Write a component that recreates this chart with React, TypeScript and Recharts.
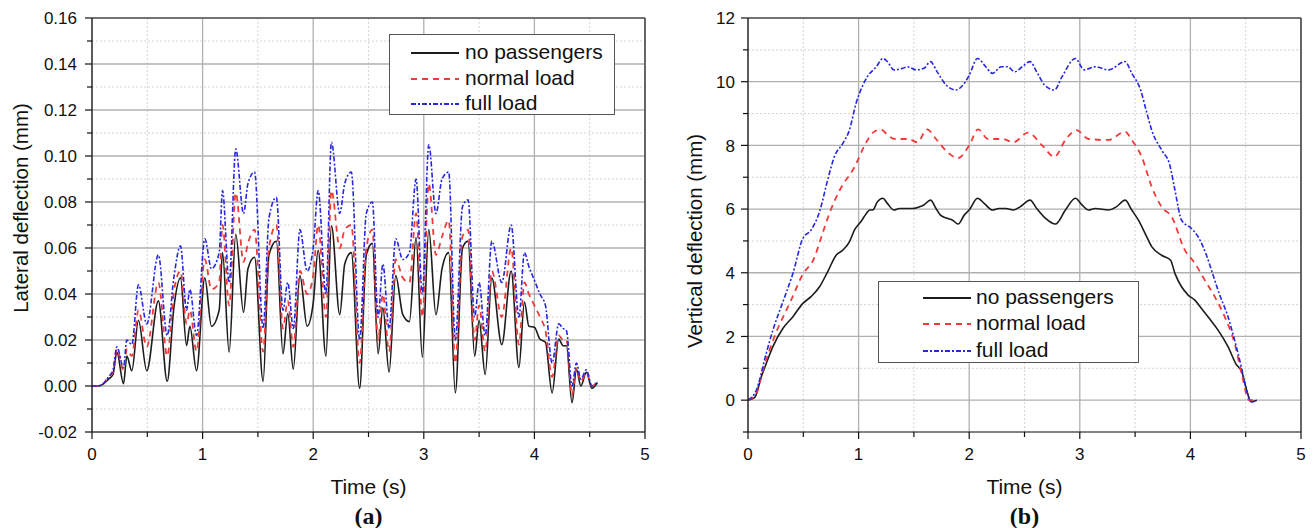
import React from 'react';
import { LineChart, Line, XAxis, YAxis, CartesianGrid, ReferenceLine } from 'recharts';

// ---- (a) lateral deflection: the three curves read at the same instants ----
const latTime = [
  0, 0.05, 0.09, 0.15, 0.19, 0.225, 0.285, 0.315, 0.36, 0.42, 0.495, 0.6, 0.68, 0.74, 0.8, 0.855,
  0.885, 0.945, 1.02, 1.08, 1.15, 1.18, 1.24, 1.3, 1.37, 1.41, 1.47, 1.547, 1.6, 1.667, 1.727, 1.77,
  1.82, 1.88, 1.945, 2.0, 2.045, 2.115, 2.165, 2.24, 2.285, 2.345, 2.42, 2.48, 2.535, 2.587, 2.63,
  2.686, 2.746, 2.81, 2.87, 2.93, 2.987, 3.045, 3.11, 3.165, 3.225, 3.285, 3.35, 3.4, 3.46, 3.5,
  3.555, 3.615, 3.705, 3.79, 3.86, 3.91, 3.95, 4.0, 4.05, 4.1, 4.16, 4.22, 4.26, 4.29, 4.34, 4.38,
  4.42, 4.47, 4.52, 4.57,
];
const latNoPassengers = [
  0, 0, 0.0005, 0.003, 0.005, 0.0147, 0.001, 0.013, 0.0066, 0.0286, 0.0066, 0.037, 0.002, 0.034, 0.047, 0.0176,
  0.026, 0.0066, 0.047, 0.026, 0.033, 0.058, 0.0147, 0.066, 0.032, 0.051, 0.056, 0.002, 0.057, 0.063, 0.014, 0.0315,
  0.0073, 0.048, 0.026, 0.036, 0.059, 0.013, 0.0697, 0.031, 0.053, 0.058, -0.001, 0.057, 0.062, 0.014, 0.034,
  0.006, 0.048, 0.031, 0.028, 0.0645, 0.0125, 0.068, 0.031, 0.051, 0.058, -0.003, 0.06, 0.063, 0.013, 0.0286,
  0.005, 0.047, 0.018, 0.05, 0.008, 0.0365, 0.026, 0.0255, 0.0204, 0.019, -0.003, 0.0204, 0.0175, 0.0175, -0.0073, 0.0073,
  0, 0.006, -0.001, 0.0015,
];
const latNormal = [
  0, 0, 0.0005, 0.004, 0.006, 0.016, 0.007, 0.016, 0.013, 0.033, 0.017, 0.045, 0.013, 0.041, 0.05, 0.027,
  0.033, 0.015, 0.055, 0.042, 0.045, 0.07, 0.035, 0.084, 0.054, 0.062, 0.068, 0.015, 0.06, 0.07, 0.025, 0.037,
  0.017, 0.05, 0.04, 0.048, 0.07, 0.03, 0.085, 0.06, 0.068, 0.07, 0.01, 0.06, 0.068, 0.02, 0.04,
  0.015, 0.055, 0.047, 0.045, 0.075, 0.03, 0.088, 0.057, 0.065, 0.072, 0.01, 0.065, 0.068, 0.02, 0.035,
  0.015, 0.05, 0.03, 0.06, 0.018, 0.045, 0.04, 0.035, 0.03, 0.024, 0.004, 0.022, 0.02, 0.02, -0.004, 0.008,
  0.002, 0.006, 0, 0.002,
];
const latFull = [
  0, 0, 0.0005, 0.004, 0.007, 0.017, 0.008, 0.02, 0.018, 0.044, 0.027, 0.057, 0.022, 0.047, 0.061, 0.033,
  0.042, 0.022, 0.064, 0.051, 0.058, 0.085, 0.045, 0.103, 0.075, 0.088, 0.093, 0.025, 0.073, 0.082, 0.033, 0.045,
  0.025, 0.068, 0.05, 0.06, 0.085, 0.04, 0.106, 0.075, 0.088, 0.093, 0.02, 0.075, 0.08, 0.03, 0.053,
  0.025, 0.064, 0.055, 0.058, 0.09, 0.04, 0.105, 0.075, 0.09, 0.093, 0.02, 0.078, 0.081, 0.03, 0.045,
  0.022, 0.063, 0.045, 0.07, 0.03, 0.058, 0.052, 0.046, 0.04, 0.035, 0.01, 0.027, 0.025, 0.024, 0, 0.01,
  0.003, 0.007, 0, 0.002,
];

// ---- (b) vertical deflection ----
const vertTimeNoPassengers = [
  0, 0.06, 0.12, 0.165, 0.225, 0.315, 0.406, 0.496, 0.57, 0.647, 0.72, 0.797, 0.857, 0.917, 0.962, 1.02,
  1.07, 1.1, 1.128, 1.17, 1.22, 1.26, 1.32, 1.37, 1.43, 1.49, 1.55, 1.59, 1.65, 1.7, 1.74, 1.8, 1.85,
  1.9, 1.955, 2.0, 2.075, 2.135, 2.21, 2.27, 2.33, 2.4, 2.46, 2.55, 2.61, 2.69, 2.78, 2.87, 2.96, 3.02,
  3.08, 3.14, 3.26, 3.33, 3.41, 3.47, 3.53, 3.59, 3.65, 3.74, 3.82, 3.86, 3.92, 3.98, 4.04, 4.1, 4.17,
  4.25, 4.34, 4.41, 4.47, 4.5, 4.55, 4.6,
];
const vertNoPassengers = [
  0, 0.08, 0.73, 1.15, 1.68, 2.25, 2.62, 3.04, 3.25, 3.56, 4.03, 4.55, 4.71, 4.97, 5.34, 5.6,
  5.86, 5.97, 5.97, 6.23, 6.34, 6.18, 5.97, 6.02, 6.02, 6.02, 6.07, 6.13, 6.28, 6.02, 5.81, 5.71, 5.65,
  5.53, 5.81, 5.97, 6.34, 6.18, 5.97, 6.02, 6.02, 5.97, 6.07, 6.28, 6.02, 5.71, 5.53, 5.97, 6.34, 6.13,
  5.97, 6.02, 5.97, 6.07, 6.28, 5.97, 5.65, 5.24, 4.82, 4.55, 4.4, 3.98, 3.56, 3.3, 3.14, 2.88, 2.57,
  2.2, 1.68, 1.15, 0.84, 0.42, -0.05, 0,
];
const vertTimeNormal = [
  0, 0.075, 0.135, 0.24, 0.39, 0.5, 0.59, 0.68, 0.74, 0.83, 0.96, 1.07, 1.13, 1.2, 1.27, 1.33,
  1.45, 1.53, 1.62, 1.7, 1.8, 1.9, 2.0, 2.08, 2.17, 2.3, 2.4, 2.53, 2.66, 2.77, 2.87, 2.97,
  3.08, 3.26, 3.41, 3.47, 3.56, 3.65, 3.74, 3.83, 3.95, 4.04, 4.13, 4.22, 4.31, 4.4, 4.47, 4.53, 4.6,
];
const vertNormal = [
  0, 0.2, 0.94, 2.0, 3.14, 3.98, 4.4, 5.3, 5.9, 6.6, 7.3, 8.1, 8.4, 8.5, 8.3, 8.2,
  8.2, 8.1, 8.5, 8.2, 7.8, 7.6, 8.0, 8.5, 8.2, 8.2, 8.1, 8.4, 8.0, 7.64, 8.17, 8.48,
  8.2, 8.17, 8.43, 8.17, 7.64, 6.7, 6.07, 5.76, 4.71, 4.3, 3.77, 3.25, 2.62, 1.78, 0.73, 0, 0,
];
const vertTimeFull = [
  0, 0.075, 0.165, 0.225, 0.316, 0.406, 0.496, 0.57, 0.647, 0.72, 0.78, 0.857, 0.917, 0.977, 1.04, 1.08,
  1.16, 1.22, 1.26, 1.32, 1.4, 1.44, 1.52, 1.59, 1.65, 1.71, 1.79, 1.88, 1.93, 2.0, 2.075, 2.15,
  2.21, 2.29, 2.35, 2.41, 2.48, 2.55, 2.61, 2.68, 2.77, 2.84, 2.96, 3.04, 3.14, 3.26, 3.41, 3.47,
  3.55, 3.6, 3.65, 3.75, 3.81, 3.86, 3.92, 4.01, 4.07, 4.14, 4.2, 4.26, 4.34, 4.4, 4.46, 4.5, 4.55, 4.6,
];
const vertFull = [
  0, 0.31, 1.47, 2.2, 3.09, 3.98, 5.08, 5.34, 5.92, 6.91, 7.64, 8.06, 8.48, 9.32, 9.9, 10.16,
  10.47, 10.73, 10.63, 10.37, 10.42, 10.47, 10.37, 10.42, 10.63, 10.31, 9.9, 9.74, 9.84, 10.2, 10.73, 10.47,
  10.26, 10.47, 10.47, 10.31, 10.47, 10.63, 10.31, 9.9, 9.74, 10.16, 10.73, 10.37, 10.47, 10.37, 10.63, 10.26,
  9.74, 9.1, 8.48, 7.8, 7.43, 6.6, 5.65, 5.39, 5.13, 4.6, 3.98, 3.35, 2.62, 1.88, 1.05, 0.42, -0.05, 0,
];

// ---- ticks ----
const timeMajor = [0, 1, 2, 3, 4, 5];
const timeMinor = [0.5, 1.5, 2.5, 3.5, 4.5];
const latMajor = [-0.02, 0, 0.02, 0.04, 0.06, 0.08, 0.1, 0.12, 0.14, 0.16];
const latMinor = [-0.01, 0.01, 0.03, 0.05, 0.07, 0.09, 0.11, 0.13, 0.15];
const vertMajor = [0, 2, 4, 6, 8, 10, 12];
const vertMinor = [-1, 1, 3, 5, 7, 9, 11];

const SERIES = [
  { name: 'no passengers', color: '#1c1c1c', dash: undefined as string | undefined, width: 1.6 },
  { name: 'normal load', color: '#f03a3a', dash: '6 5', width: 1.8 },
  { name: 'full load', color: '#2727dd', dash: '5 2 2 2', width: 1.6 },
];

const FONT = '"Liberation Sans", Arial, Helvetica, sans-serif';

const toPoints = (ts: number[], vs: number[]) => ts.map((t, i) => ({ t, v: vs[i] }));

interface PanelProps {
  left: number;
  width: number;
  yAxisWidth: number;
  yDomain: [number, number];
  yMajor: number[];
  yMinor: number[];
  fmt: (v: number) => string;
  labelGap: number;
  yLabel: string;
  yLabelX: number;
  yLabelY: number;
  caption: string;
  curves: { t: number; v: number }[][];
  legend: { left: number; top: number; width: number; height: number; sampleX: number; textX: number; rows: number[] };
}

const Panel: React.FC<PanelProps> = (p) => {
  const YTick = (props: any) => {
    const { x, y, payload } = props;
    const major = p.yMajor.includes(payload.value);
    return (
      <g>
        <line x1={x} x2={x - (major ? 7 : 5)} y1={y} y2={y} stroke="#111" strokeWidth={1.2} />
        {major && (
          <text x={x - p.labelGap} y={y} dy="0.36em" textAnchor="end" fontSize={17} fontFamily={FONT} fill="#111">
            {p.fmt(payload.value)}
          </text>
        )}
      </g>
    );
  };
  const XTick = (props: any) => {
    const { x, y, payload } = props;
    const major = timeMajor.includes(payload.value);
    return (
      <g>
        <line x1={x} x2={x} y1={y} y2={y + (major ? 7 : 5)} stroke="#111" strokeWidth={1.2} />
        {major && (
          <text x={x} y={y + 28} textAnchor="middle" fontSize={17} fontFamily={FONT} fill="#111">
            {payload.value}
          </text>
        )}
      </g>
    );
  };
  const plotLeft = p.left + p.yAxisWidth;
  const plotCenter = plotLeft + (p.width - p.yAxisWidth - 14) / 2;
  const lg = p.legend;

  return (
    <>
      <div style={{ position: 'absolute', left: p.left, top: 0 }}>
        <LineChart width={p.width} height={470} margin={{ top: 18, right: 14, bottom: 0, left: 0 }}>
          <CartesianGrid
            horizontalValues={p.yMinor}
            verticalValues={timeMinor}
            stroke="#d4d4d4"
            strokeDasharray="2 2"
          />
          <CartesianGrid horizontalValues={p.yMajor} verticalValues={timeMajor} stroke="#b0b0b0" strokeWidth={1.3} />
          <XAxis
            dataKey="t"
            type="number"
            domain={[0, 5]}
            ticks={[...timeMajor, ...timeMinor]}
            interval={0}
            tickSize={0}
            tickMargin={0}
            tickLine={false}
            tick={XTick}
            height={38}
            allowDataOverflow
            stroke="#111"
            strokeWidth={1.2}
          />
          <YAxis
            type="number"
            domain={p.yDomain}
            ticks={[...p.yMajor, ...p.yMinor]}
            interval={0}
            tickSize={0}
            tickMargin={0}
            tickLine={false}
            tick={YTick}
            width={p.yAxisWidth}
            allowDataOverflow
            stroke="#111"
            strokeWidth={1.2}
          />
          <ReferenceLine y={p.yDomain[1]} stroke="#222" strokeWidth={1.2} />
          <ReferenceLine x={5} stroke="#222" strokeWidth={1.2} />
          {SERIES.map((s, i) => (
            <Line
              key={s.name}
              data={p.curves[i]}
              dataKey="v"
              name={s.name}
              type="monotone"
              stroke={s.color}
              strokeWidth={s.width}
              strokeDasharray={s.dash}
              dot={false}
              activeDot={false}
              isAnimationActive={false}
            />
          ))}
        </LineChart>
      </div>
      <div
        style={{
          position: 'absolute',
          left: p.yLabelX,
          top: p.yLabelY,
          transform: 'translate(-50%, -50%) rotate(-90deg)',
          whiteSpace: 'nowrap',
          fontFamily: FONT,
          fontSize: 20.5,
          color: '#111',
        }}
      >
        {p.yLabel}
      </div>
      <div
        style={{
          position: 'absolute',
          left: plotCenter,
          top: 487,
          transform: 'translate(-50%, -50%)',
          whiteSpace: 'nowrap',
          fontFamily: FONT,
          fontSize: 21,
          color: '#111',
        }}
      >
        Time (s)
      </div>
      <div
        style={{
          position: 'absolute',
          left: plotCenter,
          top: 516,
          transform: 'translate(-50%, -50%)',
          fontFamily: '"Liberation Serif", "Times New Roman", serif',
          fontWeight: 'bold',
          fontSize: 24,
          color: '#111',
        }}
      >
        {p.caption}
      </div>
      <div
        style={{
          position: 'absolute',
          left: lg.left,
          top: lg.top,
          width: lg.width,
          height: lg.height,
          boxSizing: 'border-box',
          border: '1.3px solid #555',
          background: '#fff',
          fontFamily: FONT,
          fontSize: 21,
          color: '#111',
        }}
      >
        {SERIES.map((s, i) => (
          <div key={s.name} style={{ position: 'absolute', left: 0, top: lg.rows[i], width: '100%', height: 0 }}>
            <svg
              width={48}
              height={6}
              style={{ position: 'absolute', left: lg.sampleX, top: -3 }}
            >
              <line x1={0} x2={48} y1={3} y2={3} stroke={s.color} strokeWidth={2} strokeDasharray={s.dash} />
            </svg>
            <span
              style={{
                position: 'absolute',
                left: lg.textX,
                top: 0,
                transform: 'translateY(-55%)',
                whiteSpace: 'nowrap',
                lineHeight: 1,
              }}
            >
              {s.name}
            </span>
          </div>
        ))}
      </div>
    </>
  );
};

export default function App() {
  return (
    <div style={{ position: 'absolute', left: 0, top: 0, width: 1315, height: 528, background: '#fff' }}>
      <Panel
        left={0}
        width={659}
        yAxisWidth={92}
        yDomain={[-0.02, 0.16]}
        yMajor={latMajor}
        yMinor={latMinor}
        fmt={(v) => v.toFixed(2)}
        labelGap={15}
        yLabel="Lateral deflection (mm)"
        yLabelX={21}
        yLabelY={208}
        caption="(a)"
        curves={[
          toPoints(latTime, latNoPassengers),
          toPoints(latTime, latNormal),
          toPoints(latTime, latFull),
        ]}
        legend={{ left: 389, top: 34, width: 226, height: 81, sampleX: 21, textX: 75, rows: [18, 44, 69] }}
      />
      <Panel
        left={660}
        width={655}
        yAxisWidth={88}
        yDomain={[-1, 12]}
        yMajor={vertMajor}
        yMinor={vertMinor}
        fmt={(v) => String(v)}
        labelGap={13}
        yLabel="Vertical deflection (mm)"
        yLabelX={695}
        yLabelY={241}
        caption="(b)"
        curves={[
          toPoints(vertTimeNoPassengers, vertNoPassengers),
          toPoints(vertTimeNormal, vertNormal),
          toPoints(vertTimeFull, vertFull),
        ]}
        legend={{ left: 878, top: 281, width: 261, height: 82, sampleX: 44, textX: 97, rows: [16, 42, 69] }}
      />
    </div>
  );
}
